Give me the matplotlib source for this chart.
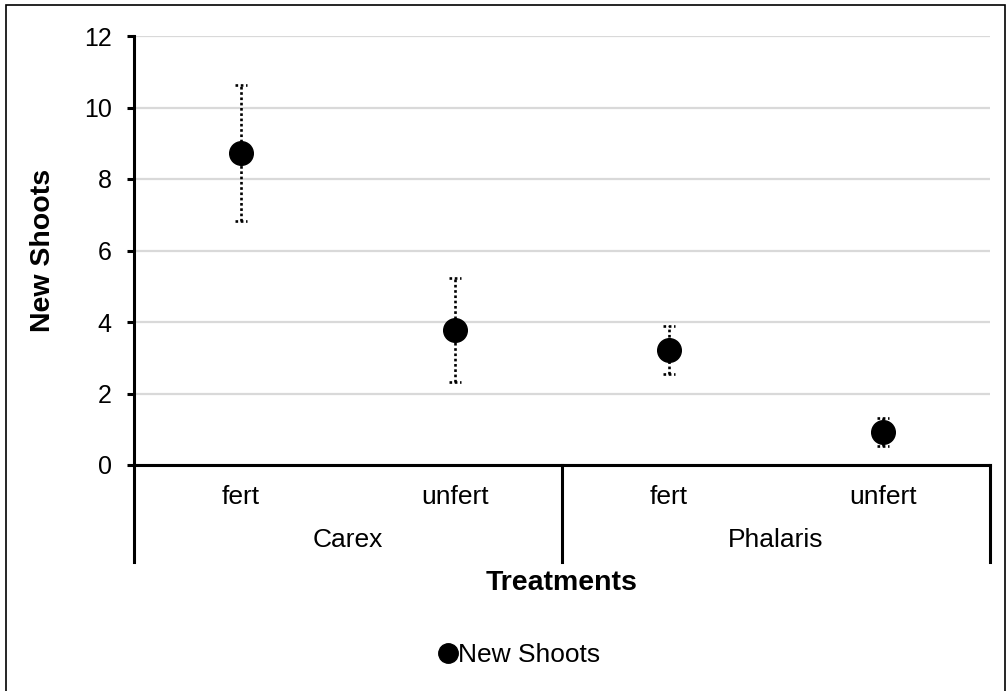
import matplotlib.pyplot as plt
from matplotlib.patches import Rectangle
from matplotlib.lines import Line2D

# data
groups = ['Carex', 'Phalaris']
treatments = ['fert', 'unfert', 'fert', 'unfert']
new_shoots = [8.72, 3.78, 3.22, 0.92]
shoot_err = [1.9, 1.45, 0.67, 0.4]
y_ticks = [0, 2, 4, 6, 8, 10, 12]

plt.rcParams['font.family'] = ['Liberation Sans', 'DejaVu Sans']

fig = plt.figure(figsize=(10.08, 6.91), dpi=100)
ax = fig.add_axes([134 / 1008, 1 - 465 / 691, 856 / 1008, 429 / 691])

x = [i + 0.5 for i in range(len(treatments))]
ax.set_xlim(0, len(treatments))
ax.set_ylim(0, 12)
ax.set_yticks(y_ticks)
ax.set_xticks([])

ax.grid(axis='y', color='#d9d9d9', linewidth=1.6)
ax.set_axisbelow(True)

for s in ['top', 'right']:
    ax.spines[s].set_visible(False)
ax.spines['left'].set_linewidth(2.2)
ax.spines['bottom'].set_linewidth(2.2)
ax.tick_params(axis='y', length=5, width=2.2, pad=11, labelsize=18)

# dotted error bars with dotted caps
eb = ax.errorbar(x, new_shoots, yerr=shoot_err, fmt='none', ecolor='black',
                 elinewidth=1.9, capsize=0, zorder=3)
eb[2][0].set_linestyle((0, (1, 1)))
for xi, v, e in zip(x, new_shoots, shoot_err):
    for yy in (v - e, v + e):
        ax.plot([xi - 0.03, xi + 0.03], [yy, yy], color='black', lw=1.9,
                ls=(0, (1, 1)), zorder=3)
ax.plot(x, new_shoots, 'o', color='black', markersize=17, zorder=4)

# category axis: labels and group dividers
trans = ax.get_xaxis_transform()
for xi, t in zip(x, treatments):
    ax.text(xi, -0.075, t, transform=trans, ha='center', va='center', fontsize=19)
for gi, g in enumerate(groups):
    ax.text(gi * 2 + 1, -0.175, g, transform=trans, ha='center', va='center', fontsize=19)
for xd in [0, 2, 4]:
    ax.plot([xd, xd], [0, -0.226], transform=trans, color='black', lw=2.2,
            clip_on=False, solid_capstyle='projecting')

ax.set_ylabel('New Shoots', fontsize=20.5, fontweight='bold')
ax.yaxis.set_label_coords(-0.091, 0.5)
fig.text(562 / 1008, 1 - 583 / 691, 'Treatments', ha='center', va='center',
         fontsize=20.5, fontweight='bold')

handle = Line2D([], [], marker='o', color='black', linestyle='none', markersize=14)
fig.legend([handle], ['New Shoots'], loc='center', bbox_to_anchor=(520 / 1008, 1 - 655 / 691),
           frameon=False, fontsize=19, handlelength=0.6, handletextpad=0.1)

fig.patches.append(Rectangle((6 / 1008, -0.02), 999 / 1008, 0.02 + 1 - 5 / 691,
                             transform=fig.transFigure, fill=False, edgecolor='black', lw=1.2))

fig.savefig('out.png', dpi=100)
